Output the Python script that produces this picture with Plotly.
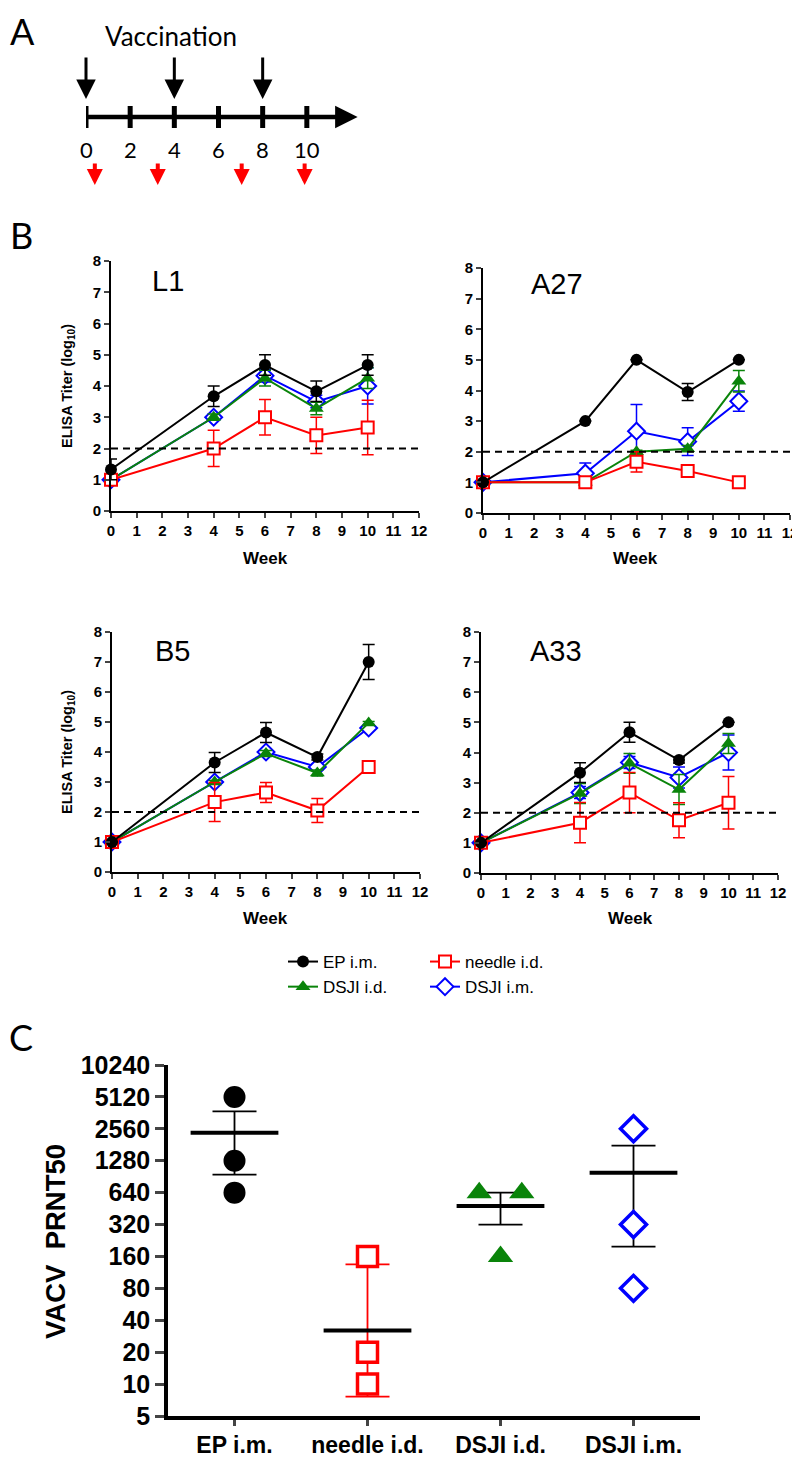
import math
import plotly.graph_objects as go

# ---------------- DATA ----------------
# Panel A schematic (weeks)
timeline_weeks = [0, 2, 4, 6, 8, 10]
vaccination_weeks = [0, 4, 8]
bleed_marks = [0.4, 3.25, 7.05, 9.9]

# Panel B: ELISA titers (log10), mean and error, at weeks
weeks = [0, 4, 6, 8, 10]

L1_EP = [1.33, 3.67, 4.67, 3.83, 4.67]
L1_EP_err = [0.33, 0.33, 0.33, 0.33, 0.33]
L1_needle = [1.0, 2.0, 3.0, 2.42, 2.67]
L1_needle_err = [0.0, 0.58, 0.57, 0.58, 0.87]
L1_DSJIid = [1.0, 3.0, 4.25, 3.28, 4.25]
L1_DSJIid_err = [0.0, 0.1, 0.25, 0.2, 0.33]
L1_DSJIim = [1.0, 3.0, 4.33, 3.5, 4.0]
L1_DSJIim_err = [0.0, 0.1, 0.2, 0.2, 0.58]

A27_EP = [1.0, 3.0, 5.0, 3.95, 5.0]
A27_EP_err = [0.0, 0.0, 0.0, 0.28, 0.0]
A27_needle = [1.0, 1.0, 1.67, 1.37, 1.0]
A27_needle_err = [0.0, 0.0, 0.33, 0.0, 0.0]
A27_DSJIid = [1.0, 1.0, 2.0, 2.1, 4.3]
A27_DSJIid_err = [0.0, 0.0, 0.05, 0.1, 0.35]
A27_DSJIim = [1.0, 1.3, 2.67, 2.33, 3.65]
A27_DSJIim_err = [0.0, 0.33, 0.87, 0.45, 0.33]

B5_EP = [1.0, 3.65, 4.65, 3.83, 7.0]
B5_EP_err = [0.0, 0.33, 0.33, 0.1, 0.58]
B5_needle = [1.0, 2.33, 2.65, 2.05, 3.5]
B5_needle_err = [0.0, 0.65, 0.33, 0.4, 0.2]
B5_DSJIid = [1.0, 3.0, 3.95, 3.3, 4.97]
B5_DSJIid_err = [0.0, 0.05, 0.1, 0.1, 0.05]
B5_DSJIim = [1.0, 3.0, 4.0, 3.5, 4.8]
B5_DSJIim_err = [0.0, 0.05, 0.1, 0.1, 0.05]

A33_EP = [1.0, 3.33, 4.67, 3.75, 5.0]
A33_EP_err = [0.0, 0.33, 0.33, 0.1, 0.0]
A33_needle = [1.0, 1.67, 2.67, 1.75, 2.33]
A33_needle_err = [0.0, 0.67, 0.67, 0.58, 0.87]
A33_DSJIid = [1.0, 2.64, 3.64, 2.77, 4.3]
A33_DSJIid_err = [0.0, 0.33, 0.33, 0.5, 0.33]
A33_DSJIim = [1.0, 2.67, 3.67, 3.17, 4.0]
A33_DSJIim_err = [0.0, 0.2, 0.2, 0.35, 0.58]

elisa_cutoff = 2
week_ticks = list(range(0, 13))
elisa_ticks = list(range(0, 9))

# Panel C: VACV PRNT50
groups = ["EP i.m.", "needle i.d.", "DSJI i.d.", "DSJI i.m."]
EP_prnt = [5120, 1280, 640]
needle_prnt = [160, 20, 10]
DSJIid_prnt = [640, 640, 160]
DSJIim_prnt = [2560, 320, 80]
prnt_mean = [2347, 32, 480, 987]
prnt_err_hi = [3746, 135, 640, 1777]
prnt_err_lo = [948, 7.6, 320, 198]
prnt_ticks = [5, 10, 20, 40, 80, 160, 320, 640, 1280, 2560, 5120, 10240]
prnt_cutoff = 20

# ---------------- STYLE ----------------
W, H = 800, 1457
OFF = 8  # the html page body margin: screen px = figure px + OFF
FONT = "Liberation Sans, Arial, sans-serif"
SCHEM_FONT = "Lato, Carlito, sans-serif"
BLACK, RED, GREEN, BLUE = "#000000", "#ff0000", "#0a840a", "#0000ff"


def dom_x(a, b):
    return [(a - OFF) / W, (b - OFF) / W]


def dom_y(top, bottom):
    return [1 - (bottom - OFF) / H, 1 - (top - OFF) / H]


def px_x(px):
    return (px - OFF) / W


def px_y(py):
    return 1 - (py - OFF) / H


def text_ann(text, px, py, size, angle=0, weight="normal", family=FONT):
    return dict(text=text, xref="paper", yref="paper", x=px_x(px), y=px_y(py),
                xanchor="center", yanchor="middle", textangle=angle, showarrow=False,
                font=dict(size=size, weight=weight, family=family))


series_style = {
    "EP i.m.": dict(color=BLACK, marker=dict(symbol="circle", size=12, color=BLACK)),
    "needle i.d.": dict(color=RED, marker=dict(symbol="square", size=12, color="white",
                                               line=dict(color=RED, width=2))),
    "DSJI i.d.": dict(color=GREEN, marker=dict(symbol="triangle-up", size=13, color=GREEN)),
    "DSJI i.m.": dict(color=BLUE, marker=dict(symbol="diamond", size=13, color="white",
                                              line=dict(color=BLUE, width=2))),
}
legend_of = {"EP i.m.": "legend", "DSJI i.d.": "legend",
             "needle i.d.": "legend2", "DSJI i.m.": "legend2"}

panels = [
    ("L1", {"DSJI i.m.": (L1_DSJIim, L1_DSJIim_err), "DSJI i.d.": (L1_DSJIid, L1_DSJIid_err),
            "needle i.d.": (L1_needle, L1_needle_err), "EP i.m.": (L1_EP, L1_EP_err)}),
    ("A27", {"DSJI i.m.": (A27_DSJIim, A27_DSJIim_err), "DSJI i.d.": (A27_DSJIid, A27_DSJIid_err),
             "needle i.d.": (A27_needle, A27_needle_err), "EP i.m.": (A27_EP, A27_EP_err)}),
    ("B5", {"DSJI i.m.": (B5_DSJIim, B5_DSJIim_err), "DSJI i.d.": (B5_DSJIid, B5_DSJIid_err),
            "needle i.d.": (B5_needle, B5_needle_err), "EP i.m.": (B5_EP, B5_EP_err)}),
    ("A33", {"DSJI i.m.": (A33_DSJIim, A33_DSJIim_err), "DSJI i.d.": (A33_DSJIid, A33_DSJIid_err),
             "needle i.d.": (A33_needle, A33_needle_err), "EP i.m.": (A33_EP, A33_EP_err)}),
]
# pixel boxes (left, right, top, bottom) for each B panel, in screen px
panel_boxes = [(111, 419, 261, 511), (483, 790, 268, 513), (112, 420, 632, 872), (481, 778, 632, 873)]
title_px = [(168, 281), (557, 284), (172, 651), (556, 651)]
week_px = [(265, 559), (635, 559), (265, 918), (630, 918)]

fig = go.Figure()
layout = dict(width=W, height=H, margin=dict(l=0, r=0, t=0, b=0, autoexpand=False),
              paper_bgcolor="white", plot_bgcolor="white",
              font=dict(family=FONT, color="black"))
annotations = []
shapes = []

for k, ((name, data), box) in enumerate(zip(panels, panel_boxes), start=1):
    xa = "x" if k == 1 else f"x{k}"
    ya = "y" if k == 1 else f"y{k}"
    for sname, (vals, errs) in data.items():
        st = series_style[sname]
        fig.add_trace(go.Scatter(
            x=weeks, y=vals, mode="lines+markers", name=sname,
            line=dict(color=st["color"], width=2), marker=st["marker"],
            error_y=dict(type="data", array=errs, color=st["color"], thickness=1.5, width=6),
            xaxis=xa, yaxis=ya, cliponaxis=False,
            showlegend=(k == 1), legend=legend_of[sname]))
    l, r, t, b = box
    axkey = "xaxis" if k == 1 else f"xaxis{k}"
    aykey = "yaxis" if k == 1 else f"yaxis{k}"
    layout[axkey] = dict(domain=dom_x(l, r), anchor=ya, range=[0, 12], tickvals=week_ticks,
                         ticks="outside", ticklen=5, tickwidth=2, showline=True, linewidth=2,
                         linecolor="black", showgrid=False, zeroline=False,
                         tickfont=dict(size=15, weight="bold"))
    layout[aykey] = dict(domain=dom_y(t, b), anchor=xa, range=[0, 8], tickvals=elisa_ticks,
                         ticks="outside", ticklen=5, tickwidth=2, showline=True, linewidth=2,
                         linecolor="black", showgrid=False, zeroline=False,
                         tickfont=dict(size=15, weight="bold"))
    shapes.append(dict(type="line", xref=f"{xa} domain", yref=ya, x0=0, x1=1,
                       y0=elisa_cutoff, y1=elisa_cutoff,
                       line=dict(color="black", width=2, dash="7px,5px")))
    annotations.append(text_ann(name, title_px[k - 1][0], title_px[k - 1][1], 29))
    annotations.append(text_ann("Week", week_px[k - 1][0], week_px[k - 1][1], 17, weight="bold"))
    if k in (1, 3):
        annotations.append(text_ann("ELISA Titer (log<sub>10</sub>)", 68, (t + b) / 2, 14.5,
                                    angle=-90, weight="bold"))

# ---------------- Panel C ----------------
def jitter(vals, spread=0.16):
    offs = []
    for i, v in enumerate(vals):
        n = vals.count(v)
        if n > 1:
            idx = [j for j, w in enumerate(vals) if w == v].index(i)
            offs.append(-spread + 2 * spread * idx / (n - 1))
        else:
            offs.append(0.0)
    return offs


c_points = [EP_prnt, needle_prnt, DSJIid_prnt, DSJIim_prnt]
c_err_colors = [BLACK, RED, BLACK, BLACK]
c_markers = [
    dict(symbol="circle", size=22, color=BLACK),
    dict(symbol="square", size=20, color="white", line=dict(color=RED, width=3.5)),
    dict(symbol="triangle-up", size=22, color=GREEN),
    dict(symbol="diamond", size=20, color="white", line=dict(color=BLUE, width=3.5)),
]
for i, (pts, mk) in enumerate(zip(c_points, c_markers)):
    offs = jitter(pts)
    fig.add_trace(go.Scatter(
        x=[i], y=[prnt_mean[i]], mode="markers", marker=dict(size=1, color=c_err_colors[i], opacity=0),
        error_y=dict(type="data", symmetric=False, array=[prnt_err_hi[i] - prnt_mean[i]],
                     arrayminus=[prnt_mean[i] - prnt_err_lo[i]], color=c_err_colors[i],
                     thickness=1.8, width=22),
        xaxis="x5", yaxis="y5", showlegend=False, hoverinfo="skip"))
    fig.add_trace(go.Scatter(
        x=[i - 0.33, i + 0.33], y=[prnt_mean[i], prnt_mean[i]], mode="lines",
        line=dict(color="black", width=4), xaxis="x5", yaxis="y5", showlegend=False))
    fig.add_trace(go.Scatter(
        x=[i + o for o in offs], y=pts, mode="markers", marker=mk, xaxis="x5", yaxis="y5",
        cliponaxis=False, showlegend=False))

layout["xaxis5"] = dict(domain=dom_x(168, 700), anchor="y5", range=[-0.5, 3.5],
                        tickvals=list(range(len(groups))), ticktext=groups,
                        ticks="outside", ticklen=6, tickwidth=3, showline=True, linewidth=3.5,
                        linecolor="black", showgrid=False, zeroline=False,
                        tickfont=dict(size=23, weight="bold"))
layout["yaxis5"] = dict(domain=dom_y(1065, 1416), anchor="x5", type="log",
                        range=[math.log10(5), math.log10(10240)],
                        tickvals=prnt_ticks, ticktext=[str(v) for v in prnt_ticks],
                        ticks="outside", ticklen=9, tickwidth=3, showline=True, linewidth=3.5,
                        linecolor="black", showgrid=False, zeroline=False,
                        tickfont=dict(size=25, weight="bold"))
shapes.append(dict(type="line", xref="x5 domain", yref="y5", x0=0, x1=0.98,
                   y0=math.log10(prnt_cutoff), y1=math.log10(prnt_cutoff),
                   line=dict(color="black", width=3, dash="9px,6px")))
# significance bracket between EP i.m. and needle i.d.
br_top = math.log10(10240) + 0.1
shapes.append(dict(type="path", xref="x5", yref="y5",
                   path=f"M 0,{math.log10(8200)} L 0,{br_top} L 1,{br_top} L 1,{math.log10(250)}",
                   line=dict(color="black", width=3)))
annotations.append(dict(text="*", xref="x5", yref="y5", x=0.5, y=br_top, xanchor="center",
                        yanchor="bottom", showarrow=False, font=dict(size=34, weight="bold"),
                        yshift=-12))
annotations.append(text_ann("VACV  PRNT50", 55, 1242, 27.5, angle=-90, weight="bold"))

# ---------------- Panel A (schematic) ----------------
layout["xaxis6"] = dict(domain=dom_x(86, 351), range=[0, 12], visible=False, anchor="y6")
layout["yaxis6"] = dict(domain=[1 - 200 / H, 1], range=[200 + OFF, OFF], visible=False, anchor="x6")
annotations.append(dict(x=12.3, y=117, ax=0, ay=117, xref="x6", yref="y6", axref="x6", ayref="y6",
                        text="", showarrow=True, arrowhead=2, arrowwidth=4.5, arrowsize=1,
                        arrowcolor="black"))
for w in timeline_weeks:
    shapes.append(dict(type="line", xref="x6", yref="y6", x0=w, x1=w, y0=106, y1=128,
                       line=dict(color="black", width=5)))
    annotations.append(dict(text=str(w), xref="x6", yref="y6", x=w, y=149, showarrow=False,
                            xanchor="center", yanchor="middle",
                            font=dict(size=22, family=SCHEM_FONT)))
for w in vaccination_weeks:
    annotations.append(dict(x=w, y=99, ax=w, ay=56, xref="x6", yref="y6", axref="x6", ayref="y6",
                            text="", showarrow=True, arrowhead=2, arrowwidth=3, arrowsize=1.3,
                            arrowcolor="black"))
for w in bleed_marks:
    annotations.append(dict(x=w, y=185, ax=w, ay=162, xref="x6", yref="y6", axref="x6", ayref="y6",
                            text="", showarrow=True, arrowhead=2, arrowwidth=4, arrowsize=0.8,
                            arrowcolor=RED))
annotations.append(text_ann("Vaccination", 171, 36, 26, family=SCHEM_FONT))

# panel letters
for letter, px, py in [("A", 22, 31), ("B", 21, 235), ("C", 21, 1037)]:
    annotations.append(text_ann(letter, px, py, 36, family=SCHEM_FONT))

layout["annotations"] = annotations
layout["shapes"] = shapes
layout["legend"] = dict(x=px_x(283), y=px_y(944), xanchor="left", yanchor="top",
                        traceorder="reversed", font=dict(size=17), bgcolor="rgba(0,0,0,0)",
                        tracegroupgap=0)
layout["legend2"] = dict(x=px_x(425), y=px_y(944), xanchor="left", yanchor="top",
                         traceorder="reversed", font=dict(size=17), bgcolor="rgba(0,0,0,0)",
                         tracegroupgap=0)
fig.update_layout(**layout)
fig.write_html("out.html")
